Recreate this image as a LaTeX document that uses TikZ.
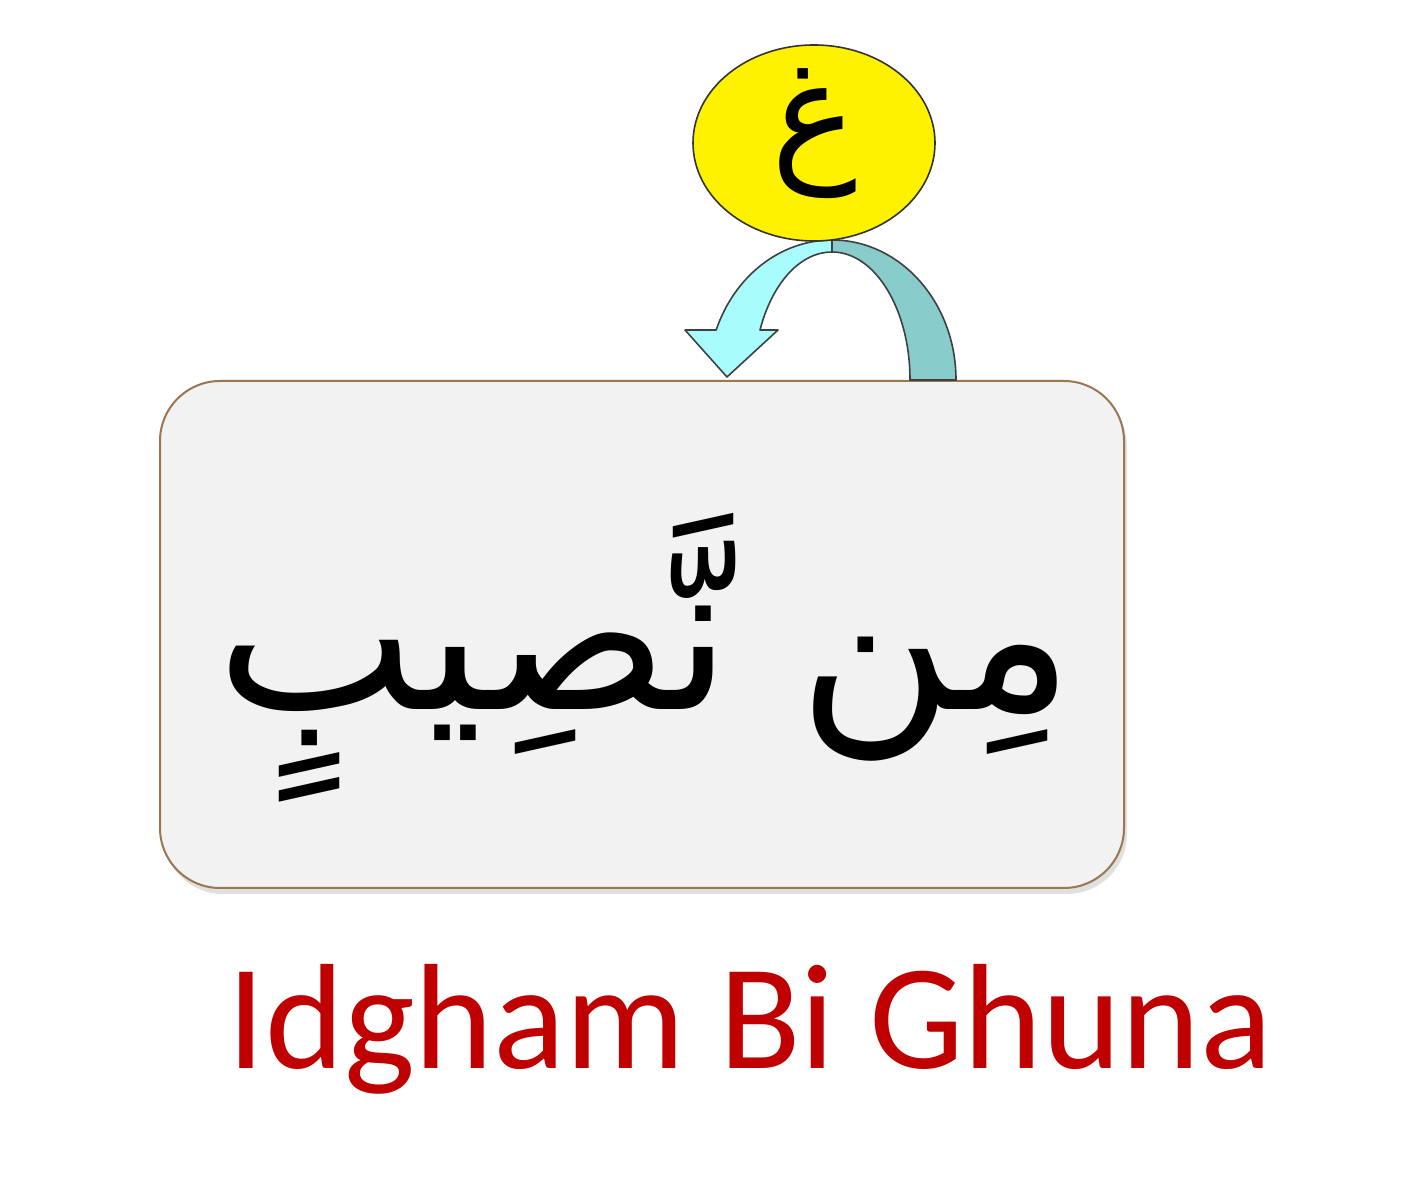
\documentclass[tikz,border=0pt]{standalone}
\usepackage{fontspec}
\usetikzlibrary{shapes.geometric}
\TeXXeTstate=1
\newfontfamily\arabicfont[Script=Arabic]{DejaVu Sans}
\newfontfamily\capfont{Carlito}
\definecolor{boxfill}{HTML}{F2F2F2}
\definecolor{boxline}{HTML}{9A7652}
\definecolor{cyanarm}{HTML}{A8FCFC}
\definecolor{tealarm}{HTML}{88CCCC}
\definecolor{capred}{HTML}{C00000}
\begin{document}
\begin{tikzpicture}[x=0.5pt,y=0.5pt,
  armline/.style={draw=black!75,line width=0.8pt,line join=round}]
\useasboundingbox (0,0) rectangle (1408,1200);
% shadow
\fill[black!12,rounded corners=30pt] (163,306) rectangle (1127,813);
\node[draw=boxline,line width=1pt,fill=boxfill,rounded corners=30pt,
  minimum width=482pt,minimum height=253.5pt,inner sep=0pt] (box) at (642,565.5) {};
% arrows
\path[armline,fill=tealarm] (956,820) arc[start angle=0,end angle=90,x radius=62pt,y radius=70pt]
  -- (832,948) arc[start angle=90,end angle=0,x radius=39pt,y radius=64pt] -- cycle;
\path[armline,fill=cyanarm] (832,960) arc[start angle=90,end angle=159.1,x radius=62pt,y radius=70pt]
  -- (685,870) -- (727,823) -- (778,870) -- (760,870)
  arc[start angle=157,end angle=90,x radius=39pt,y radius=64pt] -- cycle;
% circle
\node[ellipse,draw=black!80,line width=0.8pt,fill=yellow,minimum width=121pt,minimum height=98pt,inner sep=0pt] (gh) at (814,1057) {};
\node (ghl) at (814,1066) {\arabicfont\fontsize{72pt}{78pt}\selectfont\beginR غ\endR};
% word
\node[anchor=base] (word) at (645,490) {\arabicfont\fontsize{106pt}{120pt}\selectfont\beginR مِن نَّصِيبٍ\endR};
% caption
\node[anchor=base,text=capred] (cap) at (750,132) {\capfont\fontsize{75pt}{85pt}\selectfont Idgham Bi Ghuna};
\end{tikzpicture}
\end{document}
